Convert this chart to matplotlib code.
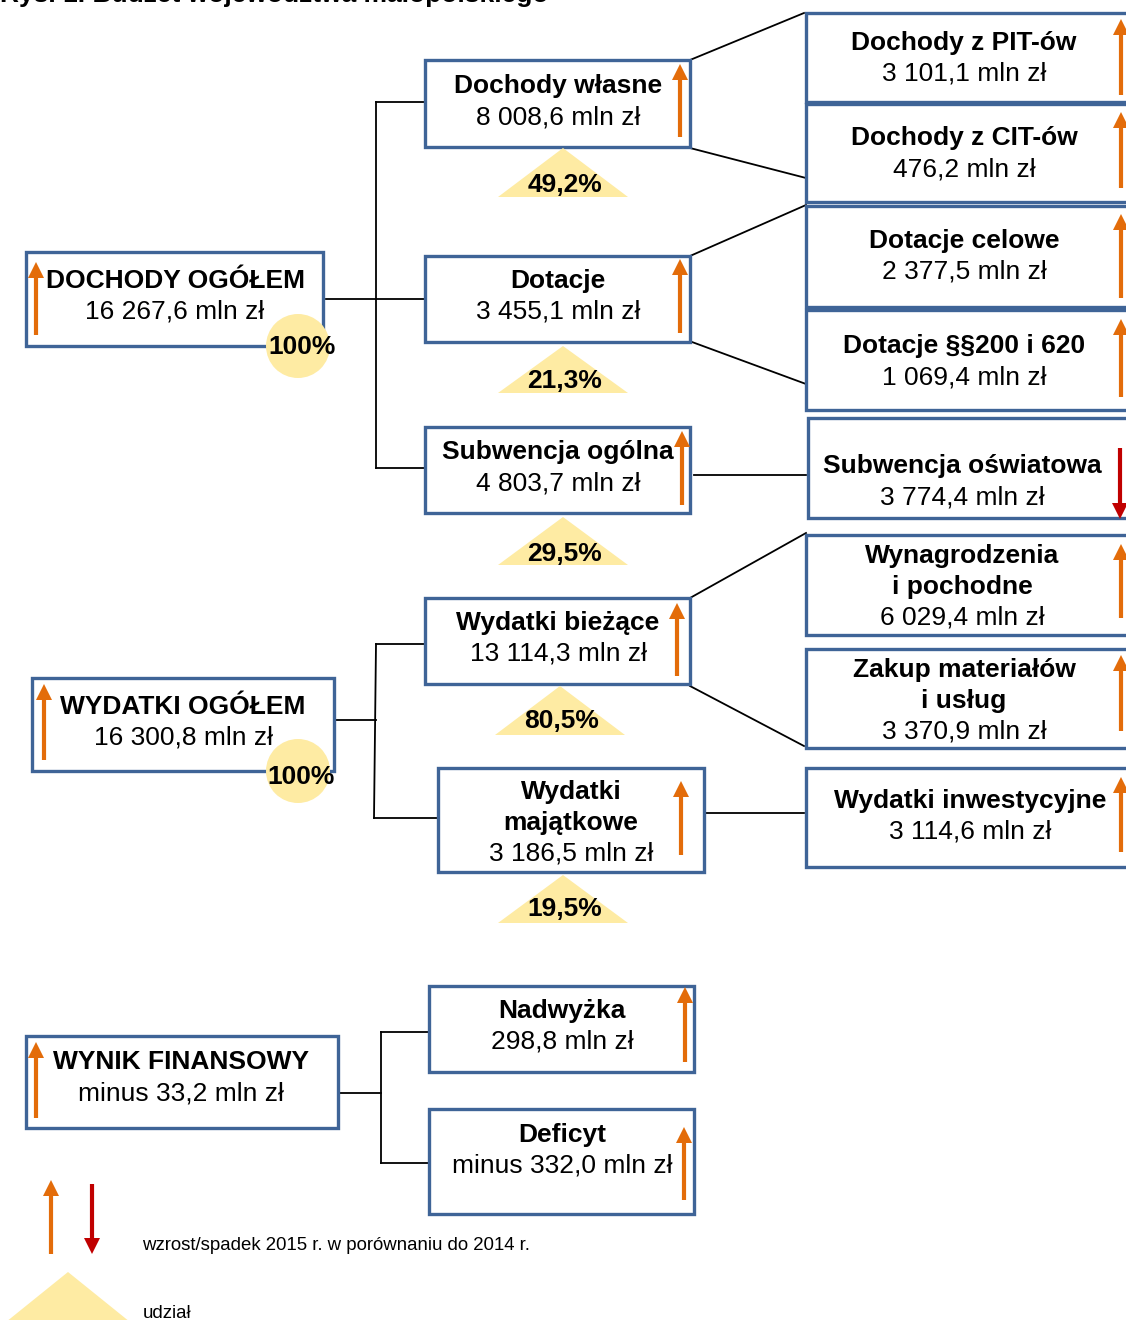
import matplotlib
matplotlib.use("Agg")
import matplotlib.pyplot as plt
from matplotlib.patches import Rectangle, Polygon, Circle

plt.rcParams['font.family'] = ['Liberation Sans', 'DejaVu Sans']

# ---- data ----
title_text = "Rys. 1. Budżet województwa małopolskiego"
node_titles = ["DOCHODY OGÓŁEM", "Dochody własne", "Dotacje", "Subwencja ogólna",
               "Dochody z PIT-ów", "Dochody z CIT-ów", "Dotacje celowe", "Dotacje §§200 i 620",
               "Subwencja oświatowa",
               "WYDATKI OGÓŁEM", "Wydatki bieżące", "Wydatki\nmajątkowe",
               "Wynagrodzenia\ni pochodne", "Zakup materiałów\ni usług", "Wydatki inwestycyjne",
               "WYNIK FINANSOWY", "Nadwyżka", "Deficyt"]
node_values = ["16 267,6 mln zł", "8 008,6 mln zł", "3 455,1 mln zł", "4 803,7 mln zł",
               "3 101,1 mln zł", "476,2 mln zł", "2 377,5 mln zł", "1 069,4 mln zł",
               "3 774,4 mln zł",
               "16 300,8 mln zł", "13 114,3 mln zł", "3 186,5 mln zł",
               "6 029,4 mln zł", "3 370,9 mln zł", "3 114,6 mln zł",
               "minus 33,2 mln zł", "298,8 mln zł", "minus 332,0 mln zł"]
node_trend = ["up", "up", "up", "up", "up", "up", "up", "up", "down",
              "up", "up", "up", "up", "up", "up", "up", "up", "up"]
share_labels = ["49,2%", "21,3%", "29,5%", "80,5%", "19,5%"]
total_labels = ["100%", "100%"]
legend_trend = "wzrost/spadek 2015 r. w porównaniu do 2014 r."
legend_share = "udział"

# ---- layout (pixel coordinates) ----
# box: x0, y0, x1, y1, text center x, first line y, arrow x, arrow top y, arrow bottom y
boxes = [
    (26, 252, 323, 346, 175, 281, 36, 262, 335),
    (425, 60, 690, 147, 558, 86, 680, 64, 137),
    (425, 256, 690, 342, 558, 281, 680, 259, 333),
    (425, 427, 690, 513, 558, 452, 682, 431, 505),
    (806, 13, 1140, 102, 964, 43, 1121, 19, 95),
    (806, 104, 1140, 202, 964, 138, 1121, 112, 188),
    (806, 206, 1140, 307, 964, 241, 1121, 214, 298),
    (806, 310, 1140, 410, 964, 346, 1121, 319, 397),
    (808, 418, 1140, 518, 962, 466, 1120, 448, 519),
    (32, 678, 334, 771, 183, 707, 44, 684, 760),
    (425, 598, 690, 684, 558, 623, 677, 603, 676),
    (438, 768, 704, 872, 571, 792, 681, 781, 855),
    (806, 535, 1140, 635, 962, 556, 1121, 544, 618),
    (806, 649, 1140, 748, 964, 670, 1121, 655, 731),
    (806, 768, 1140, 867, 970, 801, 1121, 777, 852),
    (26, 1036, 338, 1128, 181, 1062, 36, 1042, 1118),
    (429, 986, 694, 1072, 562, 1011, 685, 987, 1062),
    (429, 1109, 694, 1214, 562, 1135, 684, 1127, 1200),
]
line_step = 31
tri = [(563, 148, 65, 197, 185), (563, 346, 65, 393, 381), (563, 517, 65, 565, 554),
       (560, 686, 65, 735, 721), (563, 875, 65, 923, 909)]
circles = [(298, 346, 32, 302, 347), (298, 771, 32, 301, 777)]
connectors = [
    [(326, 299), (425, 299)], [(376, 102), (376, 468)], [(376, 102), (425, 102)], [(376, 468), (425, 468)],
    [(690, 60), (804, 13)], [(690, 148), (806, 178)],
    [(690, 256), (806, 205)], [(692, 342), (806, 384)],
    [(694, 475), (806, 475)],
    [(334, 720), (376, 720)], [(376, 644), (374, 818)], [(376, 644), (425, 644)], [(374, 818), (437, 818)],
    [(690, 598), (806, 533)], [(690, 686), (804, 746)],
    [(706, 813), (804, 813)],
    [(338, 1093), (381, 1093)], [(381, 1032), (381, 1163)], [(381, 1032), (429, 1032)], [(381, 1163), (429, 1163)],
]

BLUE = "#3f6497"
ORANGE = "#e36c0a"
RED = "#c00000"
YELLOW = "#feeba3"
FS = 19

fig = plt.figure(figsize=(11.26, 13.2), dpi=100)
ax = fig.add_axes([0, 0, 1, 1])
ax.set_xlim(0, 1126)
ax.set_ylim(1320, 0)
ax.axis("off")

def arrow(x, ytop, ybot, direction, color):
    hw, hl = 8, 16
    lw = 3.0
    if direction == "up":
        ax.plot([x, x], [ybot, ytop + hl - 1], color=color, lw=lw, solid_capstyle="butt", zorder=5)
        ax.add_patch(Polygon([(x - hw, ytop + hl), (x + hw, ytop + hl), (x, ytop)], closed=True,
                             facecolor=color, edgecolor="none", zorder=5))
    else:
        ax.plot([x, x], [ytop, ybot - hl + 1], color=color, lw=lw, solid_capstyle="butt", zorder=5)
        ax.add_patch(Polygon([(x - hw, ybot - hl), (x + hw, ybot - hl), (x, ybot)], closed=True,
                             facecolor=color, edgecolor="none", zorder=5))

for seg in connectors:
    (xa, ya), (xb, yb) = seg
    ax.plot([xa, xb], [ya, yb], color="black", lw=1.3, zorder=1)

for i, b in enumerate(boxes):
    x0, y0, x1, y1, cx, ty, axx, ayt, ayb = b
    ax.add_patch(Rectangle((x0, y0), x1 - x0, y1 - y0, facecolor="white", edgecolor=BLUE,
                           lw=2.4, zorder=2))
    tlines = node_titles[i].split("\n")
    for k, t in enumerate(tlines):
        ax.text(cx, ty + k * line_step, t, ha="center", va="center", fontsize=FS,
                fontweight="bold", color="black", zorder=4)
    ax.text(cx, ty + len(tlines) * line_step, node_values[i], ha="center", va="center",
            fontsize=FS, color="black", zorder=4)
    col = ORANGE if node_trend[i] == "up" else RED
    arrow(axx, ayt, ayb, node_trend[i], col)

for j, (cx, ytop, hw, ybase, ty) in enumerate(tri):
    ax.add_patch(Polygon([(cx - hw, ybase), (cx + hw, ybase), (cx, ytop)], closed=True,
                         facecolor=YELLOW, edgecolor="none", zorder=3))
    ax.text(cx + 2, ty, share_labels[j], ha="center", va="center", fontsize=FS,
            fontweight="bold", zorder=4)

for j, (cx, cy, r, tx, ty) in enumerate(circles):
    ax.add_patch(Circle((cx, cy), r, facecolor=YELLOW, edgecolor="none", zorder=3))
    ax.text(tx, ty, total_labels[j], ha="center", va="center", fontsize=FS,
            fontweight="bold", zorder=4)

# title (cut at the top edge, as in the reference)
ax.text(548, 2, title_text, ha="right", va="baseline", fontsize=FS, fontweight="bold", zorder=4)

# legend
arrow(51, 1180, 1254, "up", ORANGE)
arrow(92, 1184, 1254, "down", RED)
ax.text(142, 1245, legend_trend, ha="left", va="center", fontsize=13.4)
ax.add_patch(Polygon([(6, 1322), (130, 1322), (68, 1272)], closed=True,
                     facecolor=YELLOW, edgecolor="none", zorder=3))
ax.text(143, 1314, legend_share, ha="left", va="center", fontsize=13.4)

fig.savefig("out.png", dpi=100)
